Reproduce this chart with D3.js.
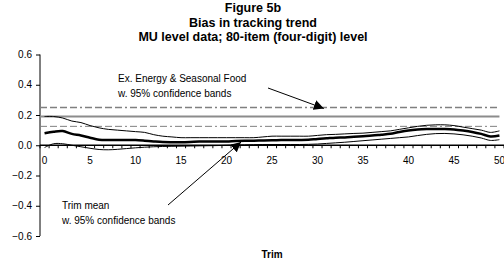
<!DOCTYPE html>
<html>
<head>
<meta charset="utf-8">
<script src="https://cdn.jsdelivr.net/npm/d3@7"></script>
<style>
  body { margin: 0; background: #fff; }
  svg { display: block; font-family: "Liberation Sans", Arial, sans-serif; }
</style>
</head>
<body>
<div id="chart"></div>
<script>
(function(d3) {
    'use strict';

    var titleLines = ['Figure 5b', 'Bias in tracking trend', 'MU level data; 80-item (four-digit) level'];

    // trim percentage 0..50
    var trims = d3.range(0, 51);

    var upperBand = [0.19, 0.19, 0.18, 0.16, 0.15, 0.13, 0.115, 0.105, 0.10, 0.095,
        0.09, 0.085, 0.07, 0.06, 0.055, 0.05, 0.05, 0.05, 0.05, 0.05,
        0.05, 0.05, 0.05, 0.05, 0.055, 0.06, 0.06, 0.06, 0.06, 0.06,
        0.065, 0.07, 0.072, 0.075, 0.078, 0.08, 0.085, 0.09, 0.095, 0.105,
        0.115, 0.125, 0.132, 0.135, 0.135, 0.13, 0.12, 0.11, 0.10, 0.085, 0.095];

    var trimMean = [0.08, 0.09, 0.094, 0.075, 0.065, 0.05, 0.037, 0.035, 0.035, 0.035,
        0.034, 0.03, 0.025, 0.021, 0.02, 0.02, 0.022, 0.025, 0.025, 0.025,
        0.025, 0.028, 0.03, 0.03, 0.032, 0.033, 0.034, 0.035, 0.035, 0.036,
        0.042, 0.046, 0.05, 0.052, 0.056, 0.06, 0.064, 0.07, 0.076, 0.088,
        0.098, 0.104, 0.107, 0.108, 0.107, 0.104, 0.097, 0.088, 0.075, 0.058, 0.064];

    var lowerBand = [-0.015, 0.01, 0.01, 0.0, -0.01, -0.02, -0.028, -0.03, -0.027, -0.022,
        -0.017, -0.013, -0.01, -0.008, -0.007, -0.006, -0.005, -0.004, -0.003, -0.002,
        0.0, 0.002, 0.003, 0.004, 0.005, 0.005, 0.005, 0.005, 0.005, 0.006,
        0.008, 0.012, 0.016, 0.02, 0.025, 0.03, 0.035, 0.04, 0.045, 0.05,
        0.055, 0.064, 0.072, 0.077, 0.078, 0.075, 0.069, 0.06, 0.048, 0.032, 0.037];

    // ex. energy & seasonal food: flat estimate with bands
    var exEnergy = [0.19];
    var exEnergyUpper = [0.25];
    var exEnergyLower = [0.125];

    var yTicks = [-0.6, -0.4, -0.2, 0.0, 0.2, 0.4, 0.6];
    var xLabels = [0, 5, 10, 15, 20, 25, 30, 35, 40, 45, 50];

    var width = 504,
        height = 262;

    var x = d3.scaleLinear().domain([-0.5, 50.5]).range([40, 504]);
    var y = d3.scaleLinear().domain([-0.6, 0.6]).range([236, 54.5]);

    var svg = d3.select('#chart').append('svg')
        .attr('width', width)
        .attr('height', height);

    // titles
    svg.selectAll('.title')
        .data(titleLines)
        .enter()
        .append('text')
        .attr('class', 'title')
        .attr('x', 253)
        .attr('y', function(d, i) { return 12 + i * 14.5; })
        .attr('text-anchor', 'middle')
        .style('font-size', '12.5px')
        .style('font-weight', 'bold')
        .text(function(d) { return d; });

    // y axis
    var yAxis = svg.append('g')
        .attr('transform', 'translate(40,0)')
        .call(d3.axisLeft(y).tickValues(yTicks).tickFormat(d3.format('.1f')).tickSize(4).tickPadding(4));
    yAxis.select('.domain').attr('stroke', '#000').attr('d', 'M0,' + y(0.6) + 'V' + y(-0.6));
    yAxis.selectAll('text').style('font-size', '10px').attr('fill', '#000');

    // ex. energy lines
    function hline(v, cls) {
        return svg.append('line')
            .attr('class', cls)
            .attr('x1', x(-0.5))
            .attr('x2', x(50))
            .attr('y1', y(v))
            .attr('y2', y(v));
    }
    hline(exEnergyUpper[0], 'band').attr('stroke', '#808080').attr('stroke-width', 1.6)
        .attr('stroke-dasharray', '7,3,7,3,7,3,7,3,2,3');
    hline(exEnergy[0], 'est').attr('stroke', '#8c8c8c').attr('stroke-width', 2);
    hline(exEnergyLower[0], 'band').attr('stroke', '#808080').attr('stroke-width', 1)
        .attr('stroke-dasharray', '7,3,7,3,7,3,7,3,2,3');

    // x axis at zero
    var xAxisG = svg.append('g').attr('transform', 'translate(0,' + y(0) + ')');
    xAxisG.append('line')
        .attr('x1', x(-0.5)).attr('x2', x(50.5))
        .attr('stroke', '#000').attr('stroke-width', 1.5);
    xAxisG.selectAll('.tk')
        .data(d3.range(0, 52))
        .enter()
        .append('line')
        .attr('class', 'tk')
        .attr('x1', function(d) { return x(d - 0.5); })
        .attr('x2', function(d) { return x(d - 0.5); })
        .attr('y1', 0).attr('y2', 3)
        .attr('stroke', '#000');
    xAxisG.selectAll('.xl')
        .data(xLabels)
        .enter()
        .append('text')
        .attr('class', 'xl')
        .attr('x', function(d) { return x(d); })
        .attr('y', 19)
        .attr('text-anchor', 'middle')
        .style('font-size', '10px')
        .text(function(d) { return d; });

    // trim mean curves
    var line = d3.line()
        .x(function(d, i) { return x(trims[i]); })
        .y(function(d) { return y(d); })
        .curve(d3.curveCatmullRom);

    svg.append('path').datum(upperBand)
        .attr('d', line).attr('fill', 'none').attr('stroke', '#000').attr('stroke-width', 1);
    svg.append('path').datum(trimMean)
        .attr('d', line).attr('fill', 'none').attr('stroke', '#000').attr('stroke-width', 2.5);
    svg.append('path').datum(lowerBand)
        .attr('d', line).attr('fill', 'none').attr('stroke', '#000').attr('stroke-width', 1);

    // annotations
    svg.append('defs').append('marker')
        .attr('id', 'arrow')
        .attr('viewBox', '0 0 10 10')
        .attr('refX', 10).attr('refY', 5)
        .attr('markerWidth', 10).attr('markerHeight', 10)
        .attr('markerUnits', 'userSpaceOnUse')
        .attr('orient', 'auto')
        .append('path')
        .attr('d', 'M0,0L10,5L0,10Z')
        .attr('fill', '#000');

    var note1 = ['Ex. Energy & Seasonal Food', 'w. 95% confidence bands'];
    var note2 = ['Trim mean', 'w. 95% confidence bands'];

    svg.selectAll('.n1')
        .data(note1)
        .enter()
        .append('text')
        .attr('x', 118)
        .attr('y', function(d, i) { return 82 + i * 15; })
        .style('font-size', '10px')
        .text(function(d) { return d; });

    svg.selectAll('.n2')
        .data(note2)
        .enter()
        .append('text')
        .attr('x', 62)
        .attr('y', function(d, i) { return 209 + i * 15; })
        .style('font-size', '10px')
        .text(function(d) { return d; });

    svg.append('line')
        .attr('x1', 268).attr('y1', 88)
        .attr('x2', x(30.7)).attr('y2', y(exEnergyUpper[0]) + 1)
        .attr('stroke', '#000').attr('stroke-width', 1)
        .attr('marker-end', 'url(#arrow)');

    svg.append('line')
        .attr('x1', 168).attr('y1', 205)
        .attr('x2', x(21.6)).attr('y2', y(trimMean[21]) + 1)
        .attr('stroke', '#000').attr('stroke-width', 1)
        .attr('marker-end', 'url(#arrow)');

    // x title
    svg.append('text')
        .attr('x', 272)
        .attr('y', 258)
        .attr('text-anchor', 'middle')
        .style('font-size', '10px')
        .style('font-weight', 'bold')
        .text('Trim');

})(window.d3);
</script>
</body>
</html>
